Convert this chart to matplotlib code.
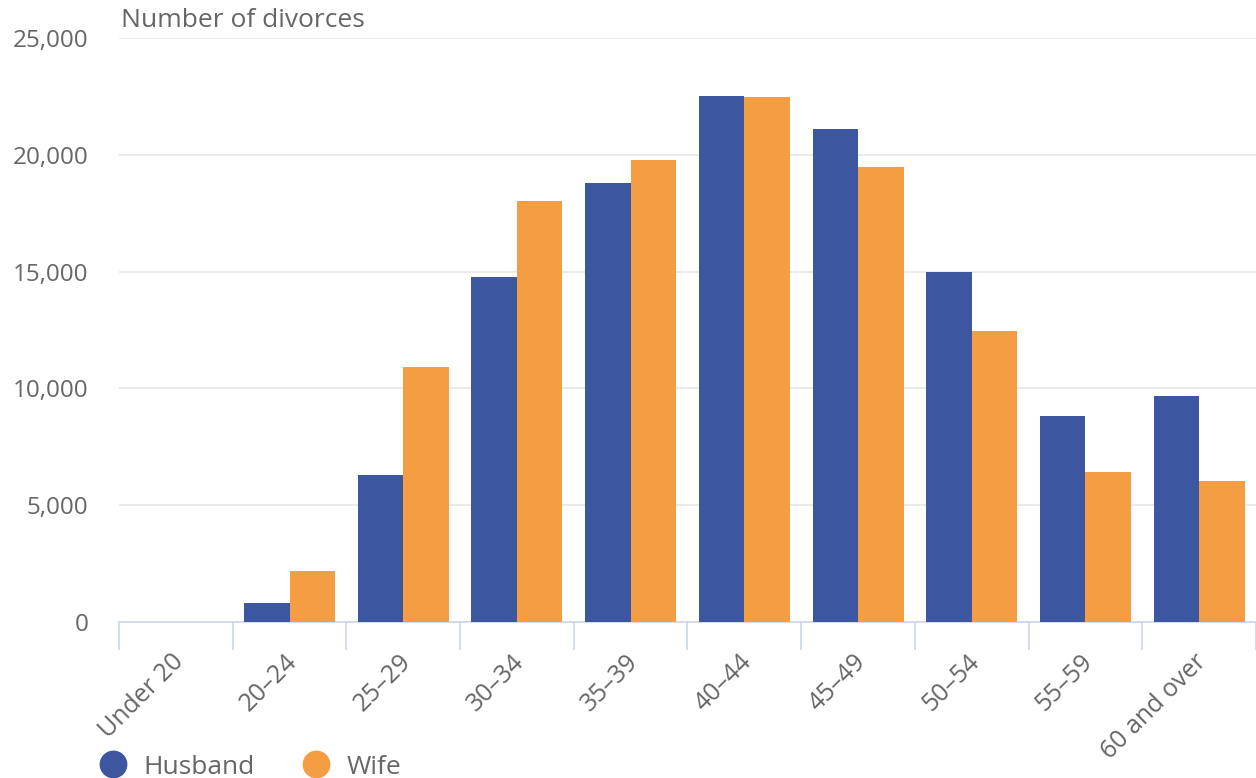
import matplotlib.pyplot as plt
import matplotlib.transforms as mtransforms
import numpy as np
from matplotlib.lines import Line2D

plt.rcParams['font.family'] = ['Open Sans', 'DejaVu Sans']

ages = ["Under 20", "20–24", "25–29", "30–34", "35–39",
        "40–44", "45–49", "50–54", "55–59", "60 and over"]
husband = [0, 810, 6290, 14770, 18790, 22520, 21100, 14980, 8820, 9670]
wife = [0, 2180, 10920, 18020, 19780, 22470, 19480, 12460, 6420, 6040]

c_hus = "#3c57a0"
c_wife = "#f59d42"
grey = "#666666"

fig = plt.figure(figsize=(12.56, 7.78), dpi=100)
ax = fig.add_axes([0.0947, 0.2005, 0.9053, 0.7507])

x = np.arange(len(ages))
w = 0.4
ax.bar(x - w / 2, husband, w, color=c_hus, zorder=3)
ax.bar(x + w / 2, wife, w, color=c_wife, zorder=3)

ax.set_xlim(-0.5, len(ages) - 0.5)
ax.set_ylim(0, 25000)
ax.set_yticks(np.arange(0, 25001, 5000))
ax.set_yticklabels([f"{v:,}" for v in range(0, 25001, 5000)], color=grey, fontsize=17.5)
ax.yaxis.grid(True, color="#e6e6e6", linewidth=1.2, zorder=0)
ax.tick_params(axis="y", length=0, pad=22)

# category boundary ticks
ax.set_xticks(np.arange(-0.5, len(ages)), minor=False)
ax.set_xticklabels([])
ax.tick_params(axis="x", which="major", length=20, width=1.2, color="#ccd6eb")
ax.set_xticks(x, minor=True)
ax.set_xticklabels(ages, minor=True, rotation=45, ha="right", va="center",
                   rotation_mode="anchor", color=grey, fontsize=18)
ax.tick_params(axis="x", which="minor", length=0, pad=26)
shift = mtransforms.ScaledTranslation(4 / 100, 0, fig.dpi_scale_trans)
for lbl in ax.get_xticklabels(minor=True):
    lbl.set_transform(lbl.get_transform() + shift)

for s in ["top", "right", "left"]:
    ax.spines[s].set_visible(False)
ax.spines["bottom"].set_color("#ccd6eb")
ax.spines["bottom"].set_linewidth(1.2)

fig.text(0.0965, 0.974, "Number of divorces", color=grey, fontsize=19, va="center", ha="left")

handles = [Line2D([], [], marker="o", linestyle="", markersize=19, color=c_hus),
           Line2D([], [], marker="o", linestyle="", markersize=19, color=c_wife)]
fig.legend(handles, ["Husband", "Wife"], loc="center left", bbox_to_anchor=(0.0502, 0.014),
           ncol=2, frameon=False, fontsize=19, labelcolor=grey, handletextpad=0.15,
           columnspacing=1.33)

fig.savefig("out.png", dpi=100)
